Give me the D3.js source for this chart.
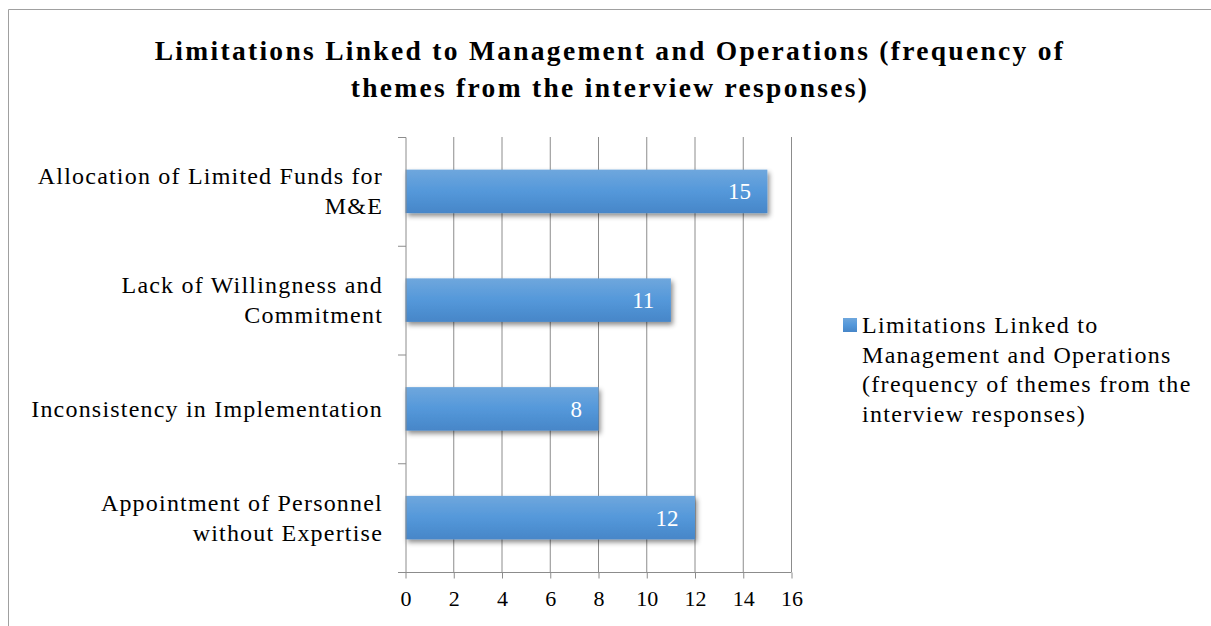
<!DOCTYPE html>
<html><head><meta charset="utf-8">
<script src="https://cdn.jsdelivr.net/npm/d3@7"></script>
<style>body{margin:0;background:#fff;} svg{display:block;}</style>
</head><body>
<script>
const categories = ["Allocation of Limited Funds for M&E","Lack of Willingness and Commitment","Inconsistency in Implementation","Appointment of Personnel without Expertise"];
const categoryLines = [["Allocation of Limited Funds for","M&E"],["Lack of Willingness and","Commitment"],["Inconsistency in Implementation"],["Appointment of Personnel","without Expertise"]];
const values = [15,11,8,12];
const xTicks = [0,2,4,6,8,10,12,14,16];
const titleLines = ["Limitations Linked to Management and Operations (frequency of","themes from the interview responses)"];
const legendLines = ["Limitations Linked to","Management and Operations","(frequency of themes from the","interview responses)"];

const W=1211,H=626;
const FONT="Liberation Serif";
const svg=d3.select("body").append("svg").attr("width",W).attr("height",H);
const defs=svg.append("defs");
const g1=defs.append("linearGradient").attr("id","barg").attr("x1",0).attr("y1",0).attr("x2",0).attr("y2",1);
g1.append("stop").attr("offset","0%").attr("stop-color","#6fa7dd");
g1.append("stop").attr("offset","50%").attr("stop-color","#5498da");
g1.append("stop").attr("offset","100%").attr("stop-color","#4786c8");
const f=defs.append("filter").attr("id","sh").attr("x","-5%").attr("y","-20%").attr("width","115%").attr("height","160%");
f.append("feDropShadow").attr("dx",2).attr("dy",3).attr("stdDeviation",2.5).attr("flood-color","#000").attr("flood-opacity",0.45);

// outer border
svg.append("path").attr("d",`M8.5,${H} L8.5,9.5 L${W},9.5`).attr("fill","none").attr("stroke","#a0a0a0").attr("stroke-width",1);

// title
svg.append("text").attr("x",608).attr("font-family",FONT).attr("font-weight","bold").attr("font-size",27.5).attr("letter-spacing",2.3).attr("text-anchor","middle").attr("fill","#000")
 .selectAll("tspan").data(titleLines).join("tspan").attr("x",610).attr("y",(d,i)=>60+i*37).text(d=>d);

const x=d3.scaleLinear().domain([0,16]).range([405,791]);
const y=d3.scaleBand().domain(categories).range([137,572]).paddingInner(0.6).paddingOuter(0.3);
const yb=d3.scaleBand().domain(categories).range([137,572]);

// gridlines
svg.append("g").selectAll("line").data(xTicks.slice(1)).join("line")
 .attr("x1",d=>x(d)+0.5).attr("x2",d=>x(d)+0.5).attr("y1",137).attr("y2",572).attr("stroke","#8c8c8c").attr("stroke-width",1);

// bars
svg.append("g").selectAll("rect").data(values).join("rect")
 .attr("x",x(0)+0.5).attr("y",(d,i)=>y(categories[i])).attr("width",d=>x(d)-x(0)).attr("height",y.bandwidth())
 .attr("fill","url(#barg)").attr("filter","url(#sh)");

// value labels
svg.append("g").selectAll("text").data(values).join("text")
 .attr("x",d=>x(d)-16).attr("y",(d,i)=>y(categories[i])+y.bandwidth()/2+8)
 .attr("text-anchor","end").attr("font-family",FONT).attr("font-size",23).attr("fill","#fff").text(d=>d);

// y axis
const ya=svg.append("g").attr("transform","translate(405.5,0)")
 .call(d3.axisLeft(yb).tickSize(0).tickFormat(""));
ya.select(".domain").attr("stroke","#8c8c8c");
svg.append("g").selectAll("line").data(d3.range(categories.length+1)).join("line")
 .attr("x1",398).attr("x2",406).attr("y1",d=>137+d*yb.step()+0.5).attr("y2",d=>137+d*yb.step()+0.5).attr("stroke","#8c8c8c");

// x axis
const xa=svg.append("g").attr("transform","translate(0.5,572.5)")
 .call(d3.axisBottom(x).tickValues(xTicks).tickSize(6).tickSizeOuter(0).tickPadding(12));
xa.select(".domain").attr("stroke","#8c8c8c").attr("d","M398,0H"+(x(16)));
xa.selectAll(".tick line").attr("stroke","#8c8c8c");
xa.selectAll(".tick text").attr("font-family",FONT).attr("font-size",22).attr("fill","#000").attr("dy","0.71em");

// category labels
svg.append("g").selectAll("text").data(categories).join("text")
 .attr("text-anchor","end").attr("font-family",FONT).attr("font-size",24).attr("letter-spacing",1.2).attr("fill","#000")
 .each(function(d,i){
   const lines=categoryLines[i];
   const cy=yb(d)+yb.bandwidth()/2;
   const lh=30;
   const t0=cy-(lines.length-1)*lh/2+8;
   d3.select(this).selectAll("tspan").data(lines).join("tspan").attr("x",383).attr("y",(l,j)=>t0+j*lh).text(l=>l);
 });

// legend
svg.append("rect").attr("x",843).attr("y",318).attr("width",14).attr("height",14).attr("fill","url(#barg)");
svg.append("text").attr("font-family",FONT).attr("font-size",24).attr("letter-spacing",1.3).attr("fill","#000")
 .selectAll("tspan").data(legendLines).join("tspan").attr("x",862).attr("y",(d,i)=>333+i*29.5).text(d=>d);
</script>
</body></html>
